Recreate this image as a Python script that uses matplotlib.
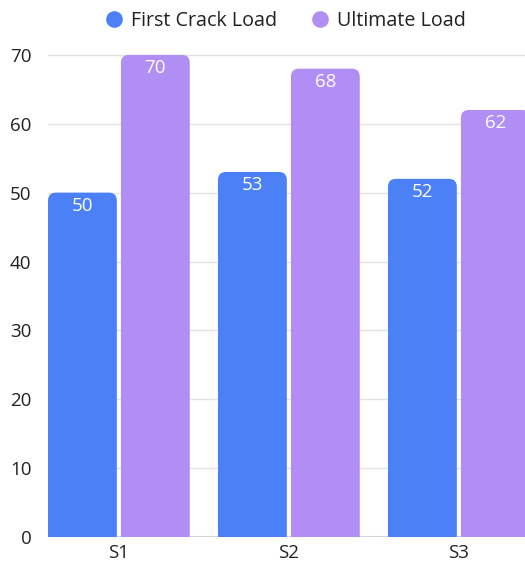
import numpy as np
import matplotlib
matplotlib.use('Agg')
import matplotlib.pyplot as plt
from matplotlib.patches import FancyBboxPatch
from matplotlib.lines import Line2D

# data
samples = ['S1', 'S2', 'S3']
first_crack = [50, 53, 52]
ultimate = [70, 68, 62]
series_names = ['First Crack Load', 'Ultimate Load']
colors = ['#4B80F7', '#B08EF4']

plt.rcParams['font.family'] = ['Open Sans', 'DejaVu Sans']

W, H = 525, 564
fig = plt.figure(figsize=(W / 100, H / 100), dpi=100)
ax_left, ax_bottom = 48 / W, 1 - 537 / H
ax_top = 1 - 48 / H
ax = fig.add_axes([ax_left, ax_bottom, 1 - ax_left, ax_top - ax_bottom])

x = np.arange(len(samples))
bar_w = 0.405
gap = 0.024
ax.set_xlim(-0.417, 2.389)
ax.set_ylim(0, 71)

# pixel -> data scale for round corners
px_x = (ax.get_xlim()[1] - ax.get_xlim()[0]) / (W * (1 - ax_left))
px_y = 71 / (537 - 48)
radius_px = 8
aspect = px_y / px_x


def rounded_bar(xc, h, color):
    left = xc - bar_w / 2
    p = FancyBboxPatch((left, -3), bar_w, h + 3,
                       boxstyle=f'round,pad=0,rounding_size={radius_px * px_x}',
                       mutation_aspect=aspect, fc=color, ec='none', zorder=3)
    ax.add_patch(p)
    ax.text(xc, h - 13.5 * px_y, f'{h}', ha='center', va='center',
            color='white', fontsize=13.5, zorder=4)


offsets = [-(bar_w + gap) / 2, (bar_w + gap) / 2]
for vals, off, c in zip([first_crack, ultimate], offsets, colors):
    for xi, v in zip(x, vals):
        rounded_bar(xi + off, v, c)

ax.set_yticks(range(0, 71, 10))
ax.set_xticks(x)
ax.set_xticklabels(samples)
ax.tick_params(axis='both', length=0, labelsize=13.5, colors='#222222')
ax.tick_params(axis='y', pad=12)
ax.tick_params(axis='x', pad=5)
ax.grid(axis='y', color='#E2E2E2', linewidth=1, zorder=0)
ax.set_axisbelow(True)
for s in ax.spines.values():
    s.set_visible(False)
ax.axhline(0, color='#D5D5D5', linewidth=1.5, zorder=2)

handles = [Line2D([], [], marker='o', linestyle='none', markersize=12,
                  markerfacecolor=c, markeredgecolor='none') for c in colors]
fig.legend(handles, series_names, loc='center', bbox_to_anchor=(285 / W, 1 - 21 / H),
           ncol=2, frameon=False, fontsize=14.2, handlelength=1.0, handletextpad=0.36,
           columnspacing=1.65, labelcolor='#222222', borderpad=0, borderaxespad=0)

fig.savefig('out.png', dpi=100)
